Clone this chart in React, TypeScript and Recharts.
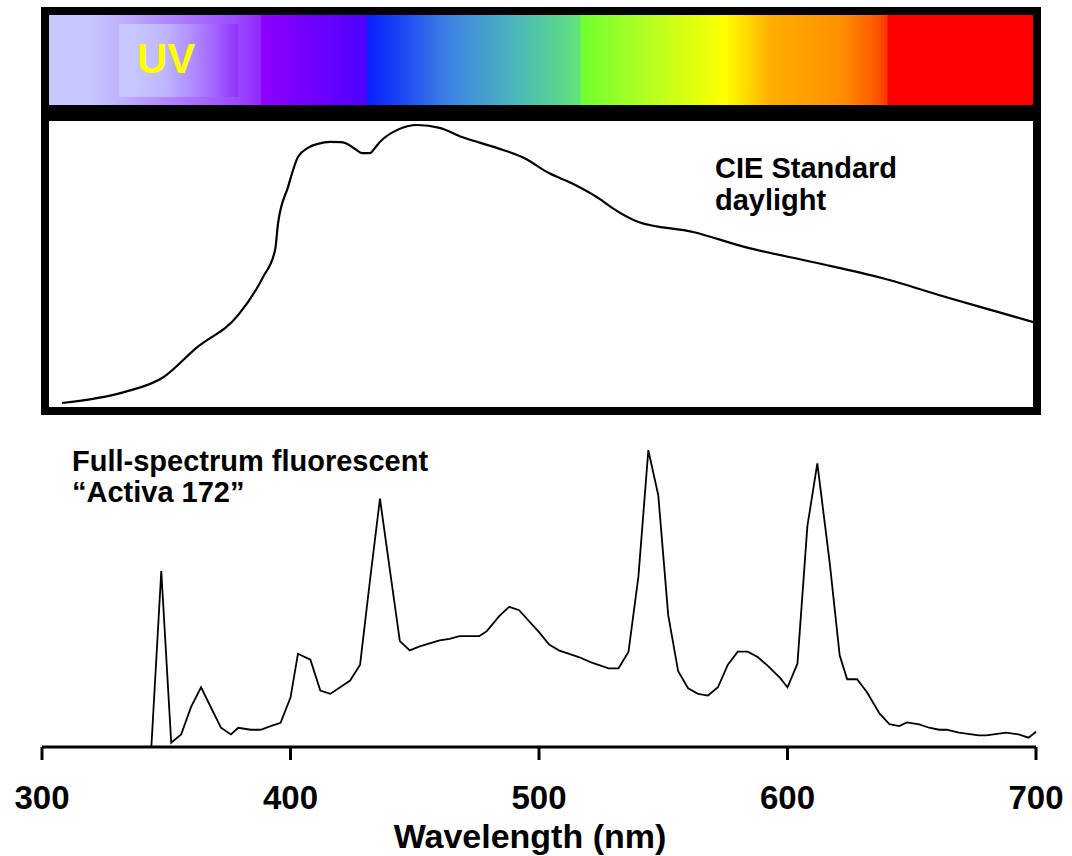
import { ComposedChart, LineChart, Line, XAxis, YAxis, ReferenceArea } from "recharts";

const wavelengthTicks = [300, 400, 500, 600, 700];

// CIE standard daylight, relative power
const daylightNm = [
  308, 333, 349, 362, 379, 389, 393.8, 395, 399, 403, 407, 411, 416, 420, 422,
  426, 428.8, 432, 434, 436, 443, 451, 460, 469, 483, 494, 504, 513, 525, 529,
  540, 562, 583, 610, 638, 665, 686, 700,
];
const daylightValue = [
  1.4, 5.2, 10.5, 20.6, 32.2, 45.5, 54.9, 64.3, 76.9, 87.4, 90.6, 92.0, 92.7,
  92.6, 92.3, 90.2, 88.8, 88.8, 90.6, 92.7, 96.9, 98.6, 97.6, 94.4, 90.6, 87.1,
  81.8, 78.3, 72.4, 69.9, 64.7, 61.2, 55.9, 50.7, 45.1, 38.1, 32.9, 29.4,
];

// Full-spectrum fluorescent "Activa 172", relative power
const fluorescentNm = [
  344, 348, 352, 356, 360, 364, 368, 372, 376, 379, 384, 388, 392, 396, 400,
  403, 408, 412, 416, 420, 424, 428, 432, 436, 440, 444, 448, 452, 460, 464,
  468, 476, 479, 484, 488, 492, 500, 504, 508, 516, 521, 528, 532, 536, 540,
  544, 548, 552, 556, 560, 564, 568, 572, 576, 580, 584, 588, 592, 597, 600,
  604, 608, 612, 617, 621, 624, 628, 632, 637, 641, 645, 648, 653, 657, 661,
  664, 669, 677, 680, 688, 693, 697, 700,
];
const fluorescentValue = [
  0, 53.0, 1.3, 3.8, 12.1, 18.0, 11.9, 5.8, 3.8, 5.8, 5.2, 5.2, 6.3, 7.3, 14.9,
  28.1, 26.3, 17.0, 16.0, 18.0, 20.0, 24.8, 50.3, 74.8, 53.3, 31.9, 29.1, 30.3,
  32.1, 32.6, 33.4, 33.4, 34.9, 39.4, 42.2, 41.2, 34.6, 30.9, 29.1, 27.1, 25.5,
  23.7, 23.7, 28.6, 51.3, 89.4, 75.8, 39.7, 22.8, 17.7, 16.0, 15.5, 18.0, 24.8,
  28.7, 28.7, 27.1, 24.5, 20.8, 18.0, 25.1, 66.5, 85.4, 55.4, 27.6, 20.4, 20.4,
  16.5, 10.1, 6.9, 6.3, 7.4, 6.8, 5.8, 5.2, 5.2, 4.3, 3.5, 3.5, 4.3, 3.8, 2.8,
  4.6,
];

// colour band across the top
const spectrumNm = [
  300, 318, 330, 379, 388, 388.3, 430.5, 430.9, 445, 462, 492, 516.5, 516.9,
  546, 575, 594, 622, 636, 640, 640.4, 700,
];
const spectrumColor = [
  "#c8c8ff", "#c8c8ff", "#c0b4ff", "#9c48ff", "#9228ff", "#8e00ff", "#5000ff",
  "#0a20ff", "#1c48f4", "#3c7ee6", "#4cbab8", "#60e47a", "#70ff30", "#b8ff20",
  "#ffff00", "#ffac00", "#ff9000", "#ff5500", "#ff3800", "#ff0000", "#ff0000",
];
const uvBoxNm = [331, 379];
const uvBoxStops = [0, 0.1, 0.37, 0.6, 0.82, 1];
const uvBoxColor = ["#c8c8ff", "#c8c8ff", "#c0b8ff", "#b090ff", "#a060ff", "#9330ff"];

const daylightData = daylightNm.map((nm, i) => ({ nm, value: daylightValue[i] }));
const fluorescentData = fluorescentNm.map((nm, i) => ({ nm, value: fluorescentValue[i] }));

const font = "'Liberation Sans', Arial, Helvetica, sans-serif";
const margin = { top: 0, right: 36, bottom: 0, left: 42 };

const abs = (left: number, top: number): React.CSSProperties => ({
  position: "absolute",
  left,
  top,
});

const gradientRect =
  (id: string, offsets: number[], colors: string[]) => (props: any) => {
    const { x, y, width, height } = props;
    return (
      <g>
        <defs>
          <linearGradient id={id} x1="0" y1="0" x2="1" y2="0">
            {offsets.map((o, i) => (
              <stop key={i} offset={o} stopColor={colors[i]} />
            ))}
          </linearGradient>
        </defs>
        <rect x={x} y={y} width={width} height={height} fill={`url(#${id})`} />
      </g>
    );
  };

const WavelengthLabel = (props: any) => {
  const vb = props.viewBox || {};
  return (
    <text
      x={vb.x + vb.width / 2 - 9}
      y={vb.y + vb.height - 8}
      textAnchor="middle"
      fill="#000"
      fontSize={34}
      fontWeight="bold"
      fontFamily={font}
    >
      Wavelength (nm)
    </text>
  );
};

export default function App() {
  return (
    <div
      style={{
        position: "absolute",
        left: 0,
        top: 0,
        width: 1072,
        height: 856,
        background: "#fff",
        fontFamily: font,
        overflow: "hidden",
      }}
    >
      {/* spectrum band */}
      <div style={abs(0, 15)}>
        <ComposedChart width={1072} height={90} margin={margin} data={daylightData}>
          <XAxis type="number" dataKey="nm" domain={[300, 700]} hide />
          <YAxis type="number" domain={[0, 100]} hide />
          <ReferenceArea
            x1={300}
            x2={700}
            y1={0}
            y2={100}
            shape={gradientRect(
              "spectrum",
              spectrumNm.map((nm) => (nm - 300) / 400),
              spectrumColor
            )}
          />
          <ReferenceArea
            x1={uvBoxNm[0]}
            x2={uvBoxNm[1]}
            y1={9}
            y2={90}
            shape={gradientRect("uvBox", uvBoxStops, uvBoxColor)}
          />
          <Line dataKey="value" stroke="none" dot={false} isAnimationActive={false} />
        </ComposedChart>
      </div>

      {/* CIE daylight */}
      <div style={abs(0, 121)}>
        <LineChart width={1072} height={286} margin={margin} data={daylightData}>
          <XAxis type="number" dataKey="nm" domain={[300, 700]} hide />
          <YAxis type="number" domain={[0, 100]} hide />
          <Line
            type="monotone"
            dataKey="value"
            stroke="#000"
            strokeWidth={2.2}
            dot={false}
            isAnimationActive={false}
          />
        </LineChart>
      </div>

      {/* fluorescent */}
      <div style={abs(0, 415)}>
        <LineChart width={1072} height={441} margin={margin} data={fluorescentData}>
          <XAxis
            type="number"
            dataKey="nm"
            domain={[300, 700]}
            ticks={wavelengthTicks}
            height={109}
            tickSize={13}
            tickMargin={26}
            axisLine={{ stroke: "#000", strokeWidth: 3 }}
            tickLine={{ stroke: "#000", strokeWidth: 3 }}
            tick={{ fill: "#000", fontSize: 33, fontWeight: "bold", fontFamily: font }}
            label={<WavelengthLabel />}
          />
          <YAxis
            yAxisId="left"
            type="number"
            domain={[0, 100]}
            width={0}
            tick={false}
            tickLine={false}
            axisLine={{ stroke: "#000", strokeWidth: 3 }}
          />
          <YAxis
            yAxisId="right"
            orientation="right"
            type="number"
            domain={[0, 100]}
            width={0}
            tick={false}
            tickLine={false}
            axisLine={{ stroke: "#000", strokeWidth: 2 }}
          />
          <Line
            yAxisId="left"
            type="linear"
            dataKey="value"
            stroke="#000"
            strokeWidth={1.8}
            dot={false}
            isAnimationActive={false}
          />
        </LineChart>
      </div>

      {/* frames */}
      <div
        style={{
          ...abs(41, 7),
          width: 1000,
          height: 106,
          border: "8px solid #000",
          boxSizing: "border-box",
        }}
      />
      <div
        style={{
          ...abs(41, 113),
          width: 1000,
          height: 302,
          border: "8px solid #000",
          boxSizing: "border-box",
        }}
      />

      {/* texts */}
      <div
        style={{
          ...abs(137, 38),
          fontSize: 42,
          lineHeight: 1,
          fontWeight: "bold",
          color: "#ffff00",
        }}
      >
        UV
      </div>
      <div
        style={{
          ...abs(715, 152),
          fontSize: 29,
          lineHeight: "32px",
          fontWeight: "bold",
          color: "#000",
        }}
      >
        CIE Standard
        <br />
        daylight
      </div>
      <div
        style={{
          ...abs(72, 446),
          fontSize: 29,
          lineHeight: "31px",
          fontWeight: "bold",
          color: "#000",
        }}
      >
        Full-spectrum fluorescent
        <br />
        “Activa 172”
      </div>
    </div>
  );
}
